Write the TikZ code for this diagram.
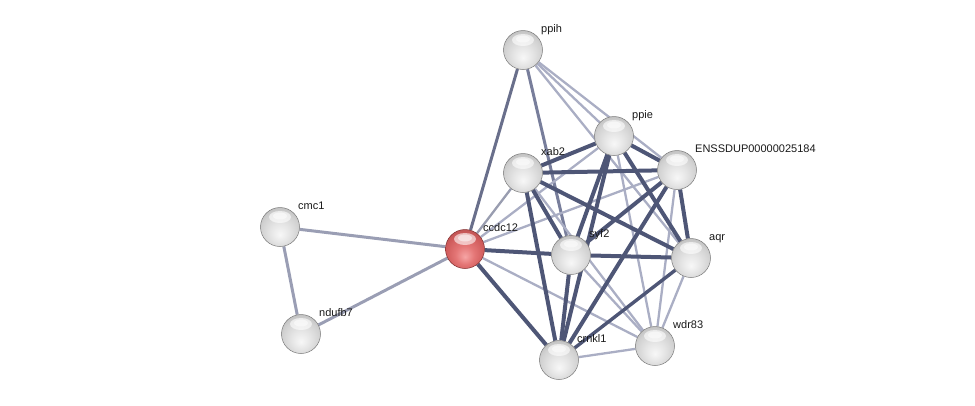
\documentclass[tikz,border=0pt]{standalone}
\usepackage{fontspec}
\setmainfont{Liberation Sans}
\usetikzlibrary{backgrounds}
\definecolor{rA}{RGB}{246,165,165}
\definecolor{rB}{RGB}{228,118,118}
\definecolor{rC}{RGB}{208,92,92}
\definecolor{rD}{RGB}{160,58,58}
\pgfdeclareradialshading{spheregray}{\pgfpoint{0bp}{-10bp}}{color(0bp)=(white!97!black); color(12bp)=(white!90!black); color(24bp)=(white!82!black); color(31bp)=(white!74!black); color(36bp)=(white!62!black); color(50bp)=(white!62!black)}
\pgfdeclareradialshading{spherered}{\pgfpoint{0bp}{-10bp}}{color(0bp)=(rA); color(12bp)=(rB); color(24bp)=(rC); color(31bp)=(rC!90!black); color(36bp)=(rD); color(50bp)=(rD)}
\definecolor{edark}{RGB}{78,86,118}
\definecolor{emid}{RGB}{120,126,155}
\definecolor{elight}{RGB}{170,174,196}
\tikzset{
  ball/.style={circle, minimum size=39pt, inner sep=0pt, shading=spheregray, draw=white!48!black, line width=0.5pt,
    path picture={\fill[white,opacity=0.6] ([yshift=10pt]path picture bounding box.center) ellipse [x radius=11pt, y radius=6pt];
                  \fill[white,opacity=0.5] ([yshift=11pt]path picture bounding box.center) ellipse [x radius=7pt, y radius=3.5pt];}},
  redball/.style={ball, shading=spherered, draw=rD!80!black},
  lbl/.style={anchor=base west, inner sep=0pt, font=\fontsize{11}{13}\selectfont, text=black!90},
  ethick/.style={draw=edark, line width=4pt},
  emed/.style={draw=emid, line width=3pt},
  ecm/.style={draw=white!25!emid, line width=3pt},
  elite/.style={draw=elight, line width=2.3pt},
}
\begin{document}
\begin{tikzpicture}[x=1pt,y=-1pt]
\useasboundingbox (0,0) rectangle (975,405);
% nodes
\node[ball] (ppih) at (523,50) {};
\node[ball] (ppie) at (614,136) {};
\node[ball] (enss) at (677,170) {};
\node[ball] (xab2) at (523,173) {};
\node[ball] (cmc1) at (280,227) {};
\node[redball] (ccdc12) at (465,249) {};
\node[ball] (syf2) at (571,255) {};
\node[ball] (aqr) at (691,258) {};
\node[ball] (ndufb7) at (301,334) {};
\node[ball] (wdr83) at (655,346) {};
\node[ball] (crnkl1) at (559,360) {};
% labels
\node[lbl] (l-ppih) at ([xshift=18pt,yshift=18pt]ppih.center) {ppih};
\node[lbl] (l-ppie) at ([xshift=18pt,yshift=18pt]ppie.center) {ppie};
\node[lbl] (l-enss) at ([xshift=18pt,yshift=18pt]enss.center) {ENSSDUP00000025184};
\node[lbl] (l-xab2) at ([xshift=18pt,yshift=18pt]xab2.center) {xab2};
\node[lbl] (l-cmc1) at ([xshift=18pt,yshift=18pt]cmc1.center) {cmc1};
\node[lbl] (l-ccdc12) at ([xshift=18pt,yshift=18pt]ccdc12.center) {ccdc12};
\node[lbl] (l-syf2) at ([xshift=18pt,yshift=18pt]syf2.center) {syf2};
\node[lbl] (l-aqr) at ([xshift=18pt,yshift=18pt]aqr.center) {aqr};
\node[lbl] (l-ndufb7) at ([xshift=18pt,yshift=18pt]ndufb7.center) {ndufb7};
\node[lbl] (l-wdr83) at ([xshift=18pt,yshift=18pt]wdr83.center) {wdr83};
\node[lbl] (l-crnkl1) at ([xshift=18pt,yshift=18pt]crnkl1.center) {crnkl1};
% edges
\begin{scope}[on background layer]
\draw[elite] (ppih) -- (ppie);
\draw[elite] (ppih) -- (enss);
\draw[elite] (ppih) -- (aqr);
\draw[emed] (ppih) -- (syf2);
\draw[emed,draw=edark!85!white] (ppih) -- (ccdc12);
\draw[ecm] (cmc1) -- (ccdc12);
\draw[ecm] (cmc1) -- (ndufb7);
\draw[ecm] (ndufb7) -- (ccdc12);
\draw[elite,draw=elight!90!black] (ccdc12) -- (xab2);
\draw[elite] (ccdc12) -- (ppie);
\draw[elite] (ccdc12) -- (enss);
\draw[elite] (ccdc12) -- (wdr83);
\draw[ethick] (ccdc12) -- (syf2);
\draw[ethick] (ccdc12) -- (crnkl1);
\draw[elite] (xab2) -- (wdr83);
\draw[elite] (ppie) -- (wdr83);
\draw[elite] (enss) -- (wdr83);
\draw[elite] (syf2) -- (wdr83);
\draw[elite] (aqr) -- (wdr83);
\draw[elite] (crnkl1) -- (wdr83);
\draw[ethick] (xab2) -- (ppie);
\draw[ethick] (xab2) -- (enss);
\draw[ethick] (xab2) -- (aqr);
\draw[ethick] (xab2) -- (syf2);
\draw[ethick] (xab2) -- (crnkl1);
\draw[ethick] (ppie) -- (enss);
\draw[ethick] (ppie) -- (syf2);
\draw[ethick] (ppie) -- (crnkl1);
\draw[ethick] (ppie) -- (aqr);
\draw[ethick] (enss) -- (aqr);
\draw[ethick] (enss) -- (syf2);
\draw[ethick] (enss) -- (crnkl1);
\draw[ethick] (syf2) -- (aqr);
\draw[ethick] (syf2) -- (crnkl1);
\draw[ethick,line width=3.4pt] (aqr) -- (crnkl1);
\end{scope}
\end{tikzpicture}
\end{document}
